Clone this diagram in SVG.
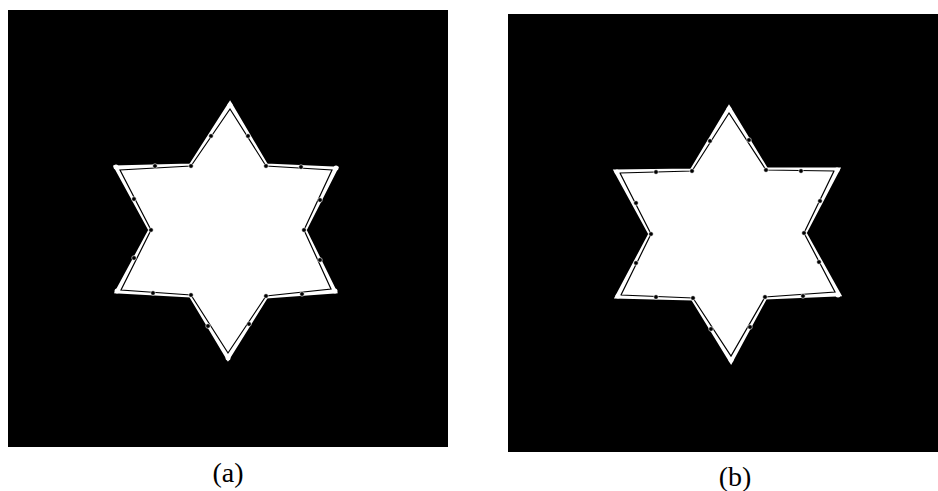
<svg xmlns="http://www.w3.org/2000/svg" width="938" height="491" viewBox="0 0 938 491">
<style>
.panel{fill:#000}
.halo{fill:#fff;stroke:#fff;stroke-width:5;stroke-linejoin:miter}
.edge{fill:none;stroke:#000;stroke-width:1.2;stroke-linejoin:miter}
.dot{fill:#000;stroke:#fff;stroke-width:0.6}
.tip{fill:#fff}
.lbl{font-family:"Liberation Serif","Times New Roman",serif;font-size:28px;fill:#000;text-anchor:middle}
</style>
<rect width="938" height="491" fill="#fff"/>
<g id="panel-a">
<rect class="panel" x="8" y="10" width="440" height="437"/>
<polygon class="halo" points="230,105 266,166 335,169 304,230 334,291 266,296 228,357 191,295 118,291 151,230 117,168 191,166"/>
<polygon class="edge" points="230,109 266,166 332,170 304,230 331,289 266,296 228,353 191,295 121,290 151,230 120,170 191,166"/>
<g>
<circle class="dot" cx="248" cy="136" r="2.3"/>
<circle class="dot" cx="266" cy="166" r="2.3"/>
<circle class="dot" cx="301" cy="167" r="2.3"/>
<circle class="dot" cx="320" cy="200" r="2.3"/>
<circle class="dot" cx="304" cy="230" r="2.3"/>
<circle class="dot" cx="320" cy="260" r="2.3"/>
<circle class="dot" cx="302" cy="294" r="2.3"/>
<circle class="dot" cx="266" cy="296" r="2.3"/>
<circle class="dot" cx="249" cy="324" r="2.3"/>
<circle class="dot" cx="208" cy="326" r="2.3"/>
<circle class="dot" cx="191" cy="295" r="2.3"/>
<circle class="dot" cx="153" cy="293" r="2.3"/>
<circle class="dot" cx="134" cy="258" r="2.3"/>
<circle class="dot" cx="151" cy="230" r="2.3"/>
<circle class="dot" cx="134" cy="199" r="2.3"/>
<circle class="dot" cx="155" cy="166" r="2.3"/>
<circle class="dot" cx="191" cy="166" r="2.3"/>
<circle class="dot" cx="211" cy="136" r="2.3"/>
</g>
<g>
<circle class="tip" cx="230" cy="105" r="2.5"/>
<circle class="tip" cx="336" cy="168" r="2.5"/>
<circle class="tip" cx="335" cy="291" r="2.5"/>
<circle class="tip" cx="228" cy="358" r="2.5"/>
<circle class="tip" cx="117" cy="291" r="2.5"/>
<circle class="tip" cx="116" cy="167" r="2.5"/>
</g>
<text class="lbl" x="228" y="482">(a)</text>
</g>
<g id="panel-b">
<rect class="panel" x="508" y="14" width="430" height="438"/>
<polygon class="halo" points="729,109 766,170 837,170 804,233 838,294 765,297 731,360 693,298 618,296 651,234 617,172 692,171"/>
<polygon class="edge" points="729,113 766,170 834,171 804,233 835,292 765,297 731,356 693,298 621,295 651,234 620,173 692,171"/>
<g>
<circle class="dot" cx="749" cy="140" r="2.3"/>
<circle class="dot" cx="766" cy="170" r="2.3"/>
<circle class="dot" cx="801" cy="171" r="2.3"/>
<circle class="dot" cx="820" cy="201" r="2.3"/>
<circle class="dot" cx="804" cy="233" r="2.3"/>
<circle class="dot" cx="819" cy="262" r="2.3"/>
<circle class="dot" cx="803" cy="296" r="2.3"/>
<circle class="dot" cx="765" cy="297" r="2.3"/>
<circle class="dot" cx="750" cy="327" r="2.3"/>
<circle class="dot" cx="711" cy="329" r="2.3"/>
<circle class="dot" cx="693" cy="298" r="2.3"/>
<circle class="dot" cx="656" cy="297" r="2.3"/>
<circle class="dot" cx="636" cy="263" r="2.3"/>
<circle class="dot" cx="651" cy="234" r="2.3"/>
<circle class="dot" cx="636" cy="203" r="2.3"/>
<circle class="dot" cx="656" cy="172" r="2.3"/>
<circle class="dot" cx="692" cy="171" r="2.3"/>
<circle class="dot" cx="710" cy="141" r="2.3"/>
</g>
<g>
<circle class="tip" cx="729" cy="109" r="2.5"/>
<circle class="tip" cx="837" cy="170" r="2.5"/>
<circle class="tip" cx="838" cy="295" r="2.5"/>
<circle class="tip" cx="731" cy="360" r="2.5"/>
<circle class="tip" cx="618" cy="296" r="2.5"/>
<circle class="tip" cx="617" cy="172" r="2.5"/>
</g>
<text class="lbl" x="735" y="486">(b)</text>
</g>
</svg>
